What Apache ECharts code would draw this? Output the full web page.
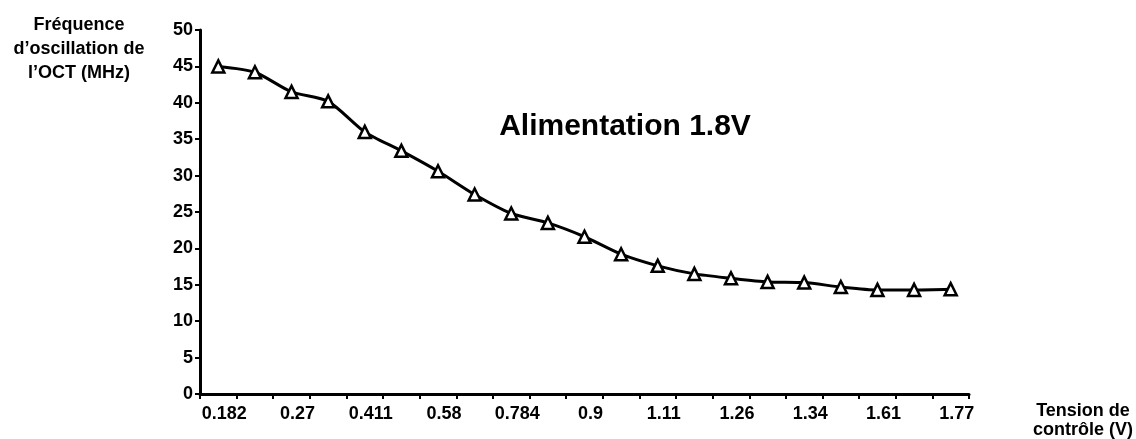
<!DOCTYPE html>
<html>
<head>
<meta charset="utf-8">
<script src="https://cdn.jsdelivr.net/npm/echarts@6/dist/echarts.min.js"></script>
<style>
html,body{margin:0;padding:0;background:#fff;}
#chart{width:1136px;height:439px;}
</style>
</head>
<body>
<div id="chart"></div>
<script>
var categories = ['0.182','','0.27','','0.411','','0.58','','0.784','','0.9','','1.11','','1.26','','1.34','','1.61','','1.77'];
var frequency = [45.0,44.2,41.5,40.2,36.0,33.4,30.6,27.4,24.8,23.5,21.6,19.2,17.6,16.5,15.9,15.4,15.3,14.7,14.3,14.3,14.4];
var yTicks = {min:0, max:50, interval:5};
var titleText = 'Alimentation 1.8V';
var yName = 'Fréquence\nd\u2019oscillation de\nl\u2019OCT (MHz)';
var xName = 'Tension de\ncontrôle (V)';

var FONT = '"Liberation Sans", Arial, sans-serif';
var chart = echarts.init(document.getElementById('chart'), null, {renderer:'canvas'});
chart.setOption({
  animation:false,
  backgroundColor:'#fff',
  grid:{left:200, right:167, top:30, bottom:45, containLabel:false},
  xAxis:{
    type:'category', data:categories, boundaryGap:true,
    axisLine:{lineStyle:{color:'#000', width:3}},
    axisTick:{show:true, interval:0, length:5, lineStyle:{color:'#000', width:2}},
    axisLabel:{interval:0, color:'#000', fontFamily:FONT, fontWeight:'bold', fontSize:18, margin:11, padding:[0,0,0,12]},
    splitLine:{show:false}
  },
  yAxis:{
    type:'value', min:yTicks.min, max:yTicks.max, interval:yTicks.interval,
    axisLine:{show:true, lineStyle:{color:'#000', width:3}},
    axisTick:{show:true, length:5, lineStyle:{color:'#000', width:2}},
    axisLabel:{color:'#000', fontFamily:FONT, fontWeight:'bold', fontSize:18, margin:7},
    splitLine:{show:false}
  },
  graphic:[
    {type:'text', x:79, y:13, style:{text:yName, fill:'#000', font:'bold 18px '+FONT, align:'center', verticalAlign:'top', lineHeight:24}},
    {type:'text', x:1083, y:402, style:{text:xName, fill:'#000', font:'bold 18px '+FONT, align:'center', verticalAlign:'top', lineHeight:19}},
    {type:'text', x:625, y:127, style:{text:titleText, fill:'#000', font:'bold 30px '+FONT, align:'center', verticalAlign:'middle'}}
  ],
  series:[{
    type:'line', data:frequency, smooth:0.25,
    symbol:'triangle', symbolSize:12,
    lineStyle:{color:'#000', width:3},
    itemStyle:{color:'#fff', borderColor:'#000', borderWidth:2.5}
  }]
});
</script>
</body>
</html>
